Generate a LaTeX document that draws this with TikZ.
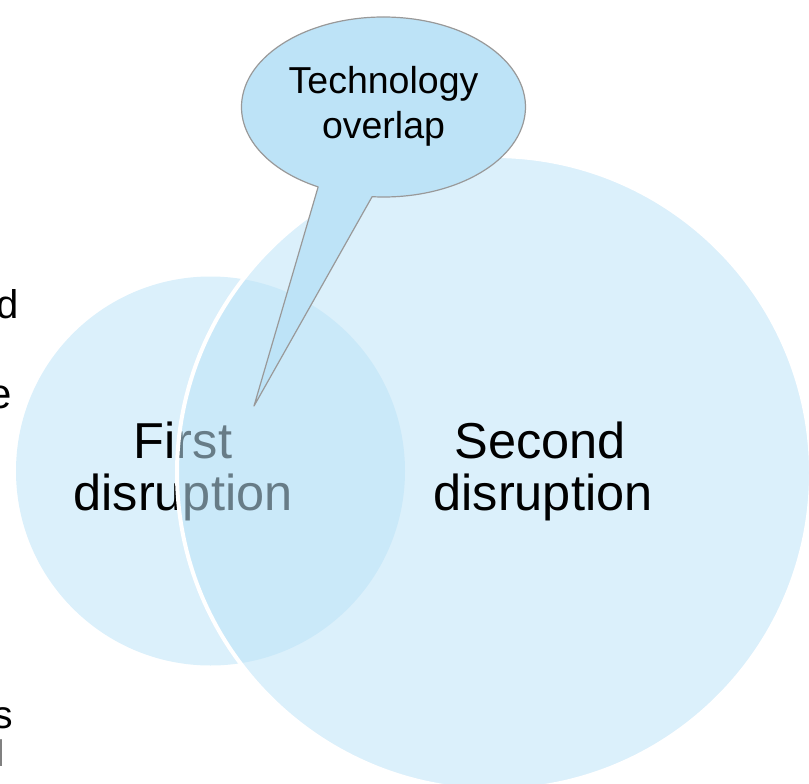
\documentclass[tikz,border=0pt]{standalone}
\usepackage{fontspec}
\setmainfont{Liberation Sans}
\definecolor{bubble}{HTML}{BDE3F7}
\definecolor{edgegray}{HTML}{999999}
\begin{document}
\begin{tikzpicture}[x=1pt,y=-1pt,
  disk/.style={circle, inner sep=0pt, fill=bubble, fill opacity=0.55},
  bigtext/.style={inner sep=0pt, anchor=base, font=\fontsize{50.5}{52}\selectfont},
  calltext/.style={inner sep=0pt, anchor=base, font=\fontsize{37.5}{45}\selectfont},
  callout/.style={fill=bubble, draw=edgegray, line width=1.2pt, line join=round},
  frag/.style={inner sep=0pt, anchor=base east}]
\useasboundingbox (0,0) rectangle (809,784);
% left text fragments
\node[frag, font=\fontsize{40}{44}\selectfont] (fd) at (19,318) {d};
\node[frag, font=\fontsize{42}{46}\selectfont] (fe) at (12,408) {e};
\node[frag, font=\fontsize{39}{44}\selectfont] (fs) at (13,728) {s};
\node[frag, font=\fontsize{37}{44}\selectfont, text=gray] (fl) at (4.7,766) {l};
% small circle
\node[disk, minimum size=389pt] (first) at (210.5,471) {};
\node[bigtext] (firstA) at (183,458) {First};
\node[bigtext] (firstB) at (183,510) {disruption};
% big circle
\node[disk, minimum size=634pt, draw=white, line width=4pt] (second) at (494,473) {};
\node[bigtext] (secondA) at (540,458) {Second};
\node[bigtext] (secondB) at (543,510) {disruption};
% callout
\coordinate (tip) at (254,406);
\coordinate (rb) at (372.1,196.7);
\draw[callout] (rb) arc[start angle=94.6, end angle=-242.6, x radius=142, y radius=90] -- (tip) -- cycle;
\node[calltext] (techA) at (383.5,93) {Technology};
\node[calltext] (techB) at (383.5,138) {overlap};
\end{tikzpicture}
\end{document}
